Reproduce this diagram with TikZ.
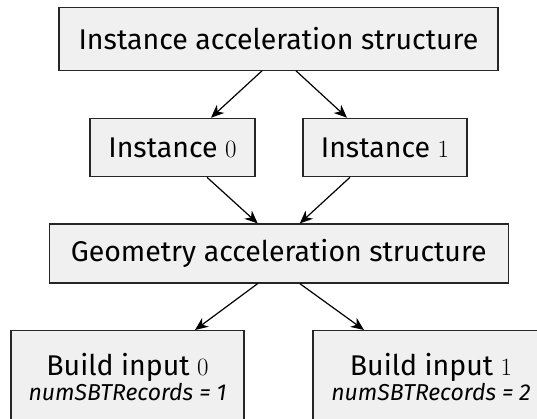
\documentclass[tikz,border=0pt]{standalone}
\usepackage{fontspec}
\usepackage{amsmath}
\setmainfont{Fira Sans}
\usetikzlibrary{arrows.meta}

\begin{document}
\begin{tikzpicture}[x=1pt,y=-1pt]

      \clip (0,0) rectangle (537,418);
      \useasboundingbox (0,0) rectangle (537,418);

      \begin{scope}[every node/.style={draw=black!85,line width=1.1pt,fill=black!6,
          inner sep=0pt,font=\fontsize{28.5}{33}\selectfont}]
        \node[minimum width=439,minimum height=62.5] (ias) at (278.5,39) {Instance acceleration structure};
        \node[minimum width=165,minimum height=58.5] (inst0) at (172.5,147.5) {Instance $0$};
        \node[minimum width=164,minimum height=58.5] (inst1) at (385,147.5) {Instance $1$};
        \node[minimum width=459,minimum height=59] (gas) at (278.75,253.5) {Geometry acceleration structure};
        \node[anchor=north,minimum width=233,minimum height=92,align=center] (bi0) at (127.5,330)
          {Build input $0$\\[-8pt]{\fontsize{23}{27}\selectfont\itshape numSBTRecords = 1}};
        \node[anchor=north,minimum width=236,minimum height=92,align=center] (bi1) at (431,330)
          {Build input $1$\\[-8pt]{\fontsize{23}{27}\selectfont\itshape numSBTRecords = 2}};
      \end{scope}

      \begin{scope}[every edge/.style={draw,line width=1.2pt,-{Stealth[length=13pt,width=11pt,inset=4pt]}}]
        \path ([xshift=-16.5pt]ias.south) edge ([xshift=38.5pt]inst0.north);
        \path ([xshift=17.5pt]ias.south) edge ([xshift=-38pt]inst1.north);
        \path ([xshift=34.5pt]inst0.south) edge ([xshift=-21pt]gas.north);
        \path ([xshift=-35pt]inst1.south) edge ([xshift=21pt]gas.north);
        \path ([xshift=-21pt]gas.south) edge ([xshift=67.5pt]bi0.north);
        \path ([xshift=21pt]gas.south) edge ([xshift=-67pt]bi1.north);
      \end{scope}

    \end{tikzpicture}
\end{document}
